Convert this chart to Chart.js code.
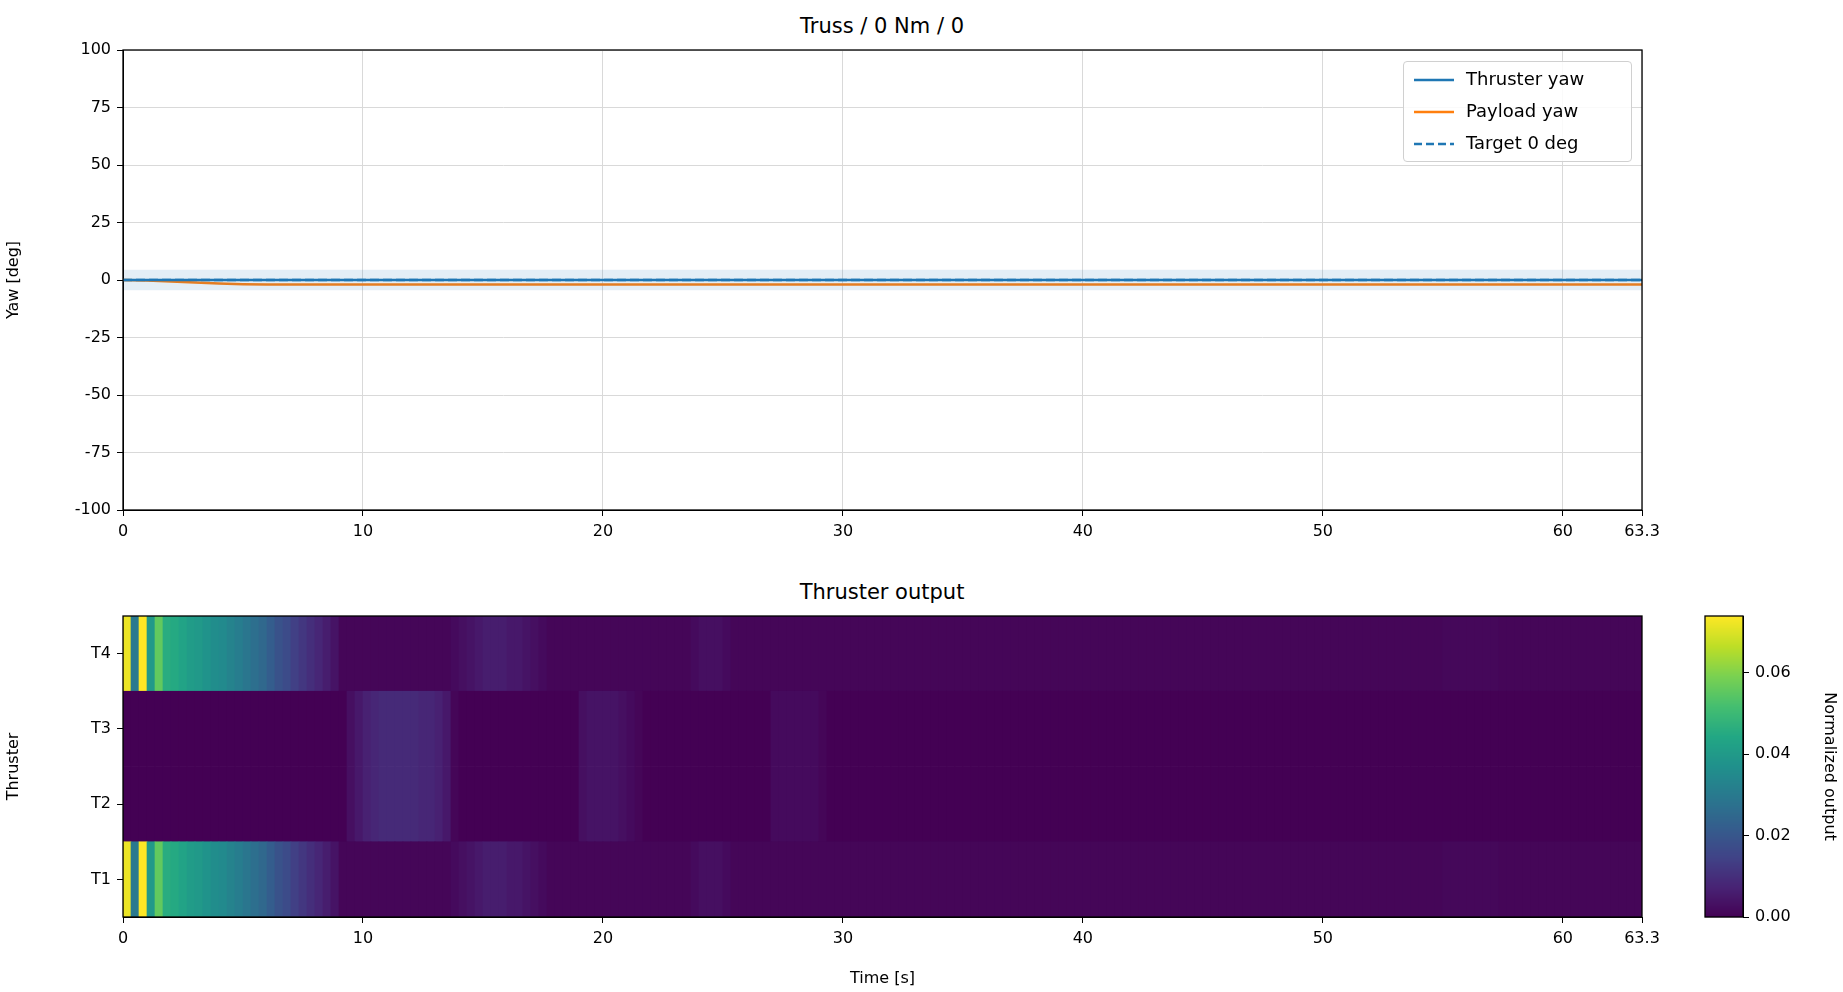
<!DOCTYPE html>
<html><head><meta charset="utf-8">
<script src="https://cdn.jsdelivr.net/npm/chart.js@4/dist/chart.umd.min.js"></script>
<style>
body{margin:0;background:#fff;width:1843px;height:992px;overflow:hidden;font-family:"DejaVu Sans",sans-serif;}
canvas{position:absolute;}
.t{position:absolute;font-size:21px;color:#000;transform:translateX(-50%);white-space:nowrap;}
#leg{position:absolute;left:1403px;top:61px;width:227px;height:99px;border:1px solid #d0d0d0;border-radius:4px;background:rgba(255,255,255,0.85);font-size:18px;}
#leg div{position:absolute;left:10px;height:22px;line-height:22px;}
#leg svg{vertical-align:middle;margin-right:12px;}
</style></head><body>
<div class="t" style="left:882px;top:14px">Truss / 0 Nm / 0</div>
<div class="t" style="left:882px;top:580px">Thruster output</div>
<canvas id="c1" width="1843" height="560" style="left:0;top:0"></canvas>
<canvas id="c2" width="1690" height="432" style="left:0;top:560px"></canvas>
<canvas id="c3" width="163" height="432" style="left:1680px;top:560px"></canvas>
<div id="leg">
<div style="top:6px"><svg width="40" height="4"><line x1="0" y1="2" x2="40" y2="2" stroke="#1f77b4" stroke-width="2.5"/></svg>Thruster yaw</div>
<div style="top:38px"><svg width="40" height="4"><line x1="0" y1="2" x2="40" y2="2" stroke="#ff7f0e" stroke-width="2.5"/></svg>Payload yaw</div>
<div style="top:70px"><svg width="40" height="4"><line x1="0" y1="2" x2="40" y2="2" stroke="#1f77b4" stroke-width="2.5" stroke-dasharray="8,4"/></svg>Target 0 deg</div>
</div>
<script>
// ---- data ----
const timeYaw = [0,1,2,3,4,5,6,8,20,40,63.3];
const thrusterYaw = [0,0,0,0,0,0,0,0,0,0,0];
const payloadYaw = [0,-0.2,-0.6,-1.1,-1.5,-1.8,-2,-2,-2,-2,-2];
const targetYaw = [0,0,0,0,0,0,0,0,0,0,0];
const bandUpper = [4.5,4.5,4.5,4.5,4.5,4.5,4.5,4.5,4.5,4.5,4.5];
const bandLower = [-4.5,-4.5,-4.5,-4.5,-4.5,-4.5,-4.5,-4.5,-4.5,-4.5,-4.5];
const thrusters = ['T1','T2','T3','T4'];
const binWidth = 1/3;
const outT1 = [
0.072,0.030,0.074,0.040,0.056,0.046,0.045,0.043,0.041,0.040,
0.038,0.036,0.035,0.033,0.031,0.029,0.027,0.025,0.022,0.019,
0.017,0.014,0.012,0.010,0.008,0.006,0.004,0.001,0.001,0.001,
0.001,0.001,0.001,0.001,0.001,0.001,0.001,0.001,0.001,0.001,
0.001,0.002,0.003,0.004,0.005,0.006,0.006,0.006,0.005,0.005,
0.004,0.003,0.002,0.001,0.001,0.001,0.001,0.001,0.001,0.001,
0.001,0.001,0.001,0.001,0.001,0.001,0.001,0.001,0.001,0.001,
0.001,0.002,0.003,0.003,0.003,0.002,0.001,0.001,0.001,0.001,
0.001,0.001,0.001,0.001,0.001,0.001,0.001,0.001,0.001,0.001,
0.001,0.001,0.001,0.001,0.001,0.001,0.001,0.001,0.001,0.001,
0.001,0.001,0.001,0.001,0.001,0.001,0.001,0.001,0.001,0.001,
0.001,0.001,0.001,0.001,0.001,0.001,0.001,0.001,0.001,0.001,
0.001,0.001,0.001,0.001,0.001,0.001,0.001,0.001,0.001,0.001,
0.001,0.001,0.001,0.001,0.001,0.001,0.001,0.001,0.001,0.001,
0.001,0.001,0.001,0.001,0.001,0.001,0.001,0.001,0.001,0.001,
0.001,0.001,0.001,0.001,0.001,0.001,0.001,0.001,0.001,0.001,
0.001,0.001,0.001,0.001,0.001,0.0015,0.0015,0.0015,0.0015,0.0015,
0.0015,0.0015,0.001,0.001,0.001,0.001,0.001,0.001,0.001,0.001,
0.001,0.001,0.001,0.001,0.001,0.001,0.001,0.001,0.001,0.001];
const outT2 = [
0,0,0,0,0,0,0,0,0,0,
0,0,0,0,0,0,0,0,0,0,
0,0,0,0,0,0,0,0,0.003,0.005,
0.007,0.008,0.009,0.009,0.009,0.009,0.009,0.008,0.008,0.007,
0.005,0.001,0,0,0,0,0,0,0,0,
0,0,0,0,0,0,0,0.003,0.004,0.004,
0.004,0.004,0.003,0.002,0.001,0,0,0,0,0,
0,0,0,0,0,0,0,0,0,0,
0,0.002,0.002,0.002,0.002,0.002,0.002,0.001,0,0,
0,0,0,0,0,0,0,0,0,0,
0,0,0,0,0,0,0,0,0,0,
0,0,0,0,0,0,0,0,0,0,
0,0,0,0,0,0,0,0,0,0,
0,0,0,0,0,0,0,0,0,0,
0,0,0,0,0,0,0,0,0,0,
0,0,0,0,0,0,0,0,0,0,
0,0,0,0,0,0,0,0,0,0,
0,0,0,0,0,0,0,0,0,0,
0,0,0,0,0,0,0,0,0,0];
const outT3 = outT2;
const outT4 = outT1;
const vmax = 0.074;
const cbTicks = [0,0.02,0.04,0.06];
const xMax = 63.3;

// ---- helpers ----
const VIR=[[68,1,84],[72,35,116],[64,67,135],[52,94,141],[41,120,142],[32,144,140],[34,167,132],[68,190,112],[121,209,81],[189,222,38],[253,231,37]];
function viridis(t){t=Math.max(0,Math.min(1,t));const p=t*(VIR.length-1),i=Math.min(Math.floor(p),VIR.length-2),f=p-i;
const c=VIR[i].map((a,k)=>Math.round(a+(VIR[i+1][k]-a)*f));return `rgb(${c[0]},${c[1]},${c[2]})`;}
const FONT={family:'"DejaVu Sans"',size:16};
Chart.defaults.font=FONT;Chart.defaults.color='#000';
const frame={id:'frame',afterDraw(c){const a=c.chartArea,x=c.ctx;x.save();x.strokeStyle='#000';x.lineWidth=1.3;x.strokeRect(a.left,a.top,a.right-a.left,a.bottom-a.top);x.restore();}};
const pts=arr=>timeYaw.map((t,i)=>({x:t,y:arr[i]}));

new Chart(document.getElementById('c1'),{type:'line',
data:{datasets:[
{data:pts(bandUpper),borderWidth:0,pointRadius:0,fill:'+1',backgroundColor:'rgba(31,119,180,0.12)'},
{data:pts(bandLower),borderWidth:0,pointRadius:0,fill:false},
{data:pts(thrusterYaw),borderColor:'#1f77b4',borderWidth:2.5,pointRadius:0},
{data:pts(payloadYaw),borderColor:'#ff7f0e',borderWidth:2.5,pointRadius:0},
{data:pts(targetYaw),borderColor:'#1f77b4',borderWidth:2.5,borderDash:[9,4],pointRadius:0}]},
options:{animation:false,responsive:false,layout:{padding:{top:50,right:201,left:0,bottom:0}},
plugins:{legend:{display:false},tooltip:{enabled:false}},
scales:{x:{type:'linear',min:0,max:xMax,ticks:{stepSize:10,padding:6},grid:{color:'#d9d9d9',tickColor:'#000',tickLength:6},border:{color:'#000'},afterFit(s){s.height=50;}},
y:{min:-100,max:100,ticks:{stepSize:25,padding:6},grid:{color:'#d9d9d9',tickColor:'#000',tickLength:6},border:{color:'#000'},
title:{display:true,text:'Yaw [deg]',font:FONT},afterFit(s){s.width=123;}}}},plugins:[frame]});

const series=[outT1,outT2,outT3,outT4];
const hmSets=series.map((arr,k)=>({data:arr.map((v,i)=>({y:thrusters[k],x:[i*binWidth,Math.min((i+1)*binWidth,xMax)],v})),
backgroundColor:ctx=>viridis(ctx.raw?ctx.raw.v/vmax:0),borderWidth:0,barPercentage:1,categoryPercentage:1,grouped:false}));
new Chart(document.getElementById('c2'),{type:'bar',data:{labels:thrusters,datasets:hmSets},
options:{indexAxis:'y',animation:false,responsive:false,layout:{padding:{top:56,right:48,left:0,bottom:0}},
plugins:{legend:{display:false},tooltip:{enabled:false}},
scales:{x:{type:'linear',min:0,max:xMax,ticks:{stepSize:10,padding:6},grid:{drawOnChartArea:false,tickColor:'#000',tickLength:6},border:{color:'#000'},
title:{display:true,text:'Time [s]',font:FONT},afterFit(s){s.height=75;}},
y:{type:'category',reverse:true,ticks:{padding:6},grid:{drawOnChartArea:false,tickColor:'#000',tickLength:6,offset:false},border:{color:'#000'},
title:{display:true,text:'Thruster',font:FONT},afterFit(s){s.width=123;}}}},plugins:[frame]});

const grad={id:'grad',beforeDatasetsDraw(c){const a=c.chartArea,x=c.ctx;for(let py=a.top;py<a.bottom;py++){x.fillStyle=viridis((a.bottom-py)/(a.bottom-a.top));x.fillRect(a.left,py,a.right-a.left,1.2);}}};
new Chart(document.getElementById('c3'),{type:'bar',data:{labels:[''],datasets:[{data:[0]}]},
options:{animation:false,responsive:false,layout:{padding:{top:56,left:25,right:0,bottom:75}},
plugins:{legend:{display:false},tooltip:{enabled:false}},
scales:{x:{display:false},y:{position:'right',min:0,max:vmax,afterBuildTicks(s){s.ticks=cbTicks.map(v=>({value:v}));},
ticks:{padding:6,callback:v=>v.toFixed(2)},grid:{drawOnChartArea:false,tickColor:'#000',tickLength:6},border:{color:'#000'},
title:{display:true,text:'Normalized output',font:FONT},afterFit(s){s.width=100;}}}},plugins:[grad,frame]});
</script></body></html>
